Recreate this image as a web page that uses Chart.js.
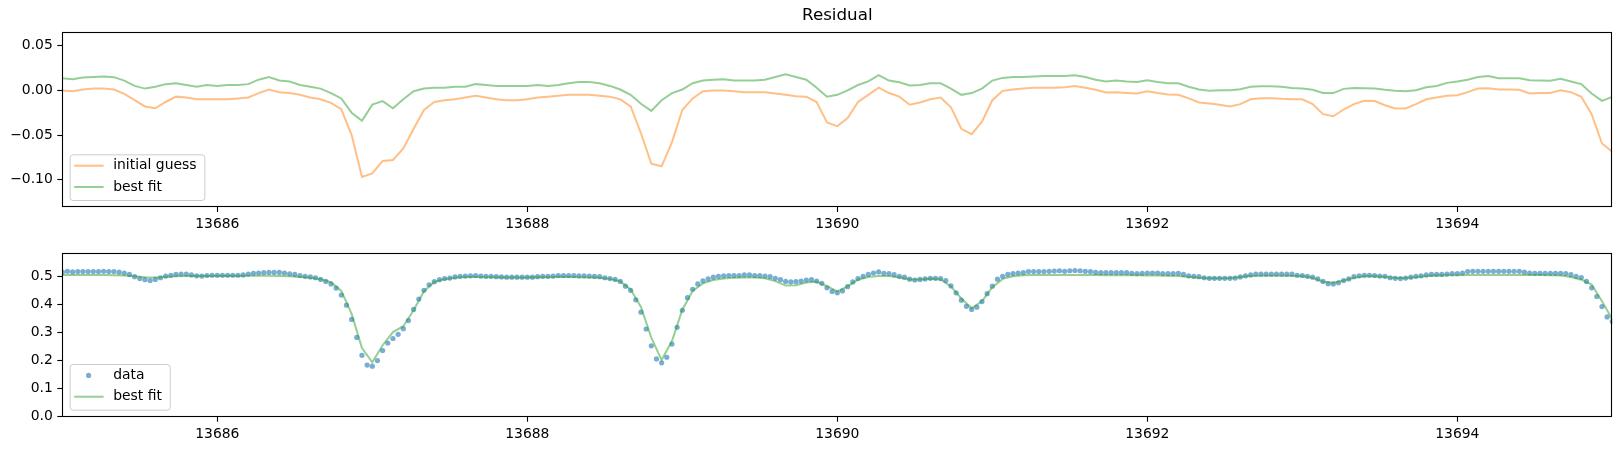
<!DOCTYPE html>
<html>
<head>
<meta charset="utf-8">
<title>Residual / best fit</title>
<script src="https://cdn.jsdelivr.net/npm/chart.js@4.4.1/dist/chart.umd.min.js"></script>
<style>
  html, body { margin: 0; padding: 0; background: #fff; }
  #wrap { position: relative; width: 1622px; height: 451px; }
  #wrap canvas { position: absolute; left: 0; }
</style>
</head>
<body>
<div id="wrap">
  <canvas id="residChart" width="1622" height="240" style="top:0"></canvas>
  <canvas id="fitChart" width="1622" height="211" style="top:240px"></canvas>
</div>
<script>
// ─── DATA ────────────────────────────────────────────
// wavelength grid: data sampled every 1/30 Å, model curves every 1/15 Å
const WAVE_START = 13685.0;
const DATA_STEP  = 1 / 30;
const MODEL_STEP = 1 / 15;

const X_TICKS      = [13686, 13688, 13690, 13692, 13694];
const RESID_Y_TICKS = [-0.10, -0.05, 0.00, 0.05];
const FLUX_Y_TICKS  = [0.0, 0.1, 0.2, 0.3, 0.4, 0.5];

// observed flux (blue dots)
const dataFlux = [
  .514,.517,.515,.516,.516,.516,.516,.516,.517,.516,.516,.514,
  .511,.506,.498,.491,.487,.484,.488,.494,.500,.503,.506,.507,.507,.504,.501,.500,
  .502,.503,.503,.503,.503,.503,.503,.504,
  .507,.510,.511,.512,.513,.513,.513,.511,.508,.506,.502,.499,.497,.494,.488,.481,.472,.457,.432,
  .396,.345,.281,.217,.182,.178,.198,.234,.261,.277,.292,.312,.341,.381,.418,.449,.469,.480,.487,.491,
  .493,.497,.499,.500,.501,.502,.500,.499,.499,.498,.497,.496,.496,.496,.496,.496,.496,.498,.499,.499,
  .500,.502,.502,.502,.502,.501,.501,.500,.499,.498,.494,.491,.488,.481,.464,.449,
  .415,.371,.311,.251,.204,.190,.210,.257,.317,.378,.423,.453,
  .472,.483,.490,.496,.499,.501,.502,.502,.502,.504,.504,.502,.502,.500,.498,.492,.487,.481,.479,.480,
  .482,.486,.487,.482,.474,.458,.445,
  .440,.447,.462,.479,.491,.499,.506,.511,.515,.510,.509,.505,.499,.496,.489,.486,.488,.490,.492,.492,
  .491,.484,.465,.440,.414,.392,.381,.389,.409,.437,.464,.489,.499,.506,.509,.511,.512,.516,.516,.516,
  .516,.517,.518,.519,.517,.519,.520,.519,.517,.516,.513,.512,.512,.512,.512,.512,.512,.510,.509,.510,
  .511,.511,.511,.509,.509,.509,.510,.506,.501,.499,.498,.494,.492,.492,
  .492,.492,.492,.493,.497,.501,.504,.507,.507,.507,.507,.507,.507,.507,.507,.503,.502,.499,.496,.490,
  .481,.473,.472,.476,.484,.490,.498,.501,.503,.503,.502,.500,.499,.494,.492,.491,.493,.496,.499,.501,
  .504,.506,.506,.506,.507,.509,.509,.511,.516,.517,.517,.517,.517,.517,.517,.517,.517,.517,.517,.514,
  .511,.510,.510,.510,.510,.510,.510,.509,.505,.499,.495,.481,.458,.427,.391,.354,.338
];

// best-fit model flux (green line, lower panel)
const fitFlux = [
  .504,.504,.504,.504,.504,.503,.502,.499,.496,.495,.497,.499,.500,.500,.500,.500,.500,.500,.501,.501,
  .501,.500,.499,.497,.494,.489,.478,.447,
  .365,.243,.192,.253,.300,.321,.378,.446,.479,
  .489,.494,.497,.497,.496,.496,.495,.495,.495,.496,.496,.497,.497,.496,.495,.494,.490,.481,.452,.390,
  .280,.200,.268,
  .380,.447,.474,.486,.491,.494,.495,.495,.492,.482,.466,.467,.477,.480,.464,.445,.463,.487,.497,.500,
  .500,.495,.488,.488,.490,.488,.463,.420,.385,.410,.460,.490,.499,
  .503,.504,.504,.504,.504,.504,.504,.504,.503,.503,.503,.503,.502,.502,.501,.500,.497,.494,.492,.492,
  .493,.497,.500,.501,.501,.501,.500,.499,.494,.480,.476,.484,.494,.499,.499,.497,.494,.493,.496,.500,
  .502,.503,.503,.504,.504,.504,.504,.504,.504,.504,.504,.503,.502,.497,.487,.470,.410,.346
];

// residual: data minus initial guess (orange, upper panel)
const residInitial = [
  .000,-.001,.001,.002,.002,.001,-.004,-.011,-.018,-.020,-.013,-.007,-.008,-.010,-.010,-.010,-.010,-.009,
  -.008,-.003,.001,-.002,-.003,-.005,-.008,-.010,-.014,-.021,-.050,-.097,-.093,-.079,-.078,-.065,-.043,
  -.022,-.013,-.011,-.010,-.008,-.006,-.008,-.010,-.011,-.011,-.010,-.008,-.007,-.006,
  -.005,-.005,-.005,-.006,-.007,-.010,-.018,-.048,-.082,-.085,-.058,-.022,-.009,-.001,.000,.000,-.001,
  -.002,-.002,-.002,-.0035,-.005,-.0065,-.007,-.013,-.036,-.040,-.031,-.013,-.005,.003,-.003,-.007,
  -.016,-.0135,-.010,-.008,-.019,-.043,-.049,-.035,-.011,-.0005,.001,.002,.003,.003,.003,.0035,.005,
  .003,.0006,
  -.0024,-.002,-.0028,-.0035,-.001,-.003,-.0046,-.005,-.009,-.0136,-.0147,-.016,-.018,-.0154,-.010,
  -.0087,-.0087,-.0095,-.010,-.010,-.0154,-.0266,-.029,-.0214,-.0154,-.0117,-.012,-.0166,-.0203,-.0203,
  -.0154,-.010,-.008,-.006,-.0054,-.002,.002,.0025,.001,.001,.0006,-.0035,-.003,-.003,.000,-.002,
  -.0072,-.0266,-.0595,-.0688
];

// residual: data minus best fit (green, upper panel)
const residBest = [
  .0137,.0125,.0144,.0151,.0155,.0148,.011,.005,.002,.004,.007,.008,.006,.004,.006,.005,.006,.006,
  .007,.012,.015,.011,.010,.006,.004,.002,-.003,-.009,-.025,-.034,-.016,-.012,-.020,-.010,-.001,.002,
  .003,.003,.004,.004,.007,.006,.005,.005,.005,.005,.006,.005,.006,
  .008,.0095,.0095,.008,.005,.001,-.005,-.015,-.023,-.011,-.003,.001,.008,.011,.012,.0125,.011,.011,
  .011,.012,.015,.018,.015,.012,.003,-.007,-.005,.000,.006,.010,.017,.011,.009,.0055,.006,.008,.008,
  .002,-.005,-.003,.002,.011,.014,.015,.015,.0155,.016,.016,.016,.017,.015,.012,
  .010,.011,.010,.0095,.0114,.0095,.008,.008,.004,.001,-.0005,.0002,.0002,.0013,.004,.0047,.0047,.004,
  .0028,.002,.0006,-.003,-.003,.0017,.0028,.0025,.002,.0006,-.0005,-.001,.0002,.0036,.005,.0084,.010,
  .012,.015,.016,.0137,.0137,.0137,.0114,.011,.0107,.013,.010,.007,-.0035,-.0117,-.0072
];

[['dataFlux', dataFlux, 301], ['fitFlux', fitFlux, 151],
 ['residInitial', residInitial, 151], ['residBest', residBest, 151]].forEach(([n, a, len]) => {
  if (a.length !== len) throw new Error(n + ' has ' + a.length + ' values, expected ' + len);
});

const toPoints = (vals, step) => vals.map((y, i) => ({ x: WAVE_START + i * step, y }));

// ─── STYLE ───────────────────────────────────────────
const ORANGE = 'rgba(255,127,14,0.5)';
const GREEN  = 'rgba(44,160,44,0.5)';
const BLUE   = 'rgba(31,119,180,0.6)';
const FONT   = '"DejaVu Sans", Verdana, sans-serif';

Chart.defaults.font.family = FONT;
Chart.defaults.font.size = 13.9;
Chart.defaults.color = '#000';

// black box round the plot area, like matplotlib spines
const frame = {
  id: 'frame',
  afterDatasetsDraw(chart) {
    const a = chart.chartArea, ctx = chart.ctx;
    ctx.save();
    ctx.strokeStyle = '#000';
    ctx.lineWidth = 1.1;
    ctx.strokeRect(Math.round(a.left) + 0.5, Math.round(a.top) + 0.5,
                   Math.round(a.right - a.left) - 1, Math.round(a.bottom - a.top) - 1);
    ctx.restore();
  }
};

// legend boxed in the lower-left corner of the plot area
const insetLegend = {
  id: 'insetLegend',
  afterDraw(chart, args, opts) {
    const { ctx, chartArea } = chart;
    const items = opts.items || [];
    ctx.save();
    ctx.font = '13.9px ' + FONT;
    const tw = Math.max(...items.map(it => ctx.measureText(it.label).width));
    const w = 44 + tw + 7.5, h = 45.7;
    const x0 = chartArea.left + 7.3, y0 = chartArea.bottom - 7 - h;
    ctx.beginPath();
    ctx.roundRect(x0 + 0.5, y0 + 0.5, w, h, 3);
    ctx.fillStyle = 'rgba(255,255,255,0.8)';
    ctx.fill();
    ctx.strokeStyle = '#cccccc';
    ctx.lineWidth = 1;
    ctx.stroke();
    items.forEach((it, k) => {
      const y = y0 + 11.4 + k * 21.3;
      if (it.kind === 'dot') {
        ctx.beginPath();
        ctx.arc(x0 + 19, y, 2.6, 0, Math.PI * 2);
        ctx.fillStyle = it.color;
        ctx.fill();
      } else {
        ctx.beginPath();
        ctx.moveTo(x0 + 4.6, y);
        ctx.lineTo(x0 + 34, y);
        ctx.strokeStyle = it.color;
        ctx.lineWidth = 2;
        ctx.stroke();
      }
      ctx.fillStyle = '#000';
      ctx.textBaseline = 'middle';
      ctx.textAlign = 'left';
      ctx.fillText(it.label, x0 + 43.6, y);
    });
    ctx.restore();
  }
};

function xAxis(height) {
  return {
    type: 'linear',
    min: 13685,
    max: 13695,
    afterBuildTicks: s => { s.ticks = X_TICKS.map(v => ({ value: v })); },
    afterFit: s => { s.height = height; },
    grid: { drawOnChartArea: false, drawTicks: true, tickLength: 5, tickColor: '#000', tickWidth: 1.1 },
    border: { display: false },
    ticks: { autoSkip: false, maxRotation: 0, padding: 4, callback: v => String(v) },
  };
}

function yAxis(min, max, tickVals, digits) {
  return {
    min, max,
    afterBuildTicks: s => { s.ticks = tickVals.map(v => ({ value: v })); },
    afterFit: s => { s.width = 62.3; },
    grid: { drawOnChartArea: false, drawTicks: true, tickLength: 5, tickColor: '#000', tickWidth: 1.1 },
    border: { display: false },
    ticks: { padding: 4.5, callback: v => v.toFixed(digits).replace('-', '\u2212') },
  };
}

const lineSet = (label, pts, color) => ({
  label, data: pts, showLine: true, borderColor: color, borderWidth: 2,
  pointRadius: 0, fill: false, tension: 0,
});

// ─── TOP PANEL: RESIDUAL ─────────────────────────────
new Chart(document.getElementById('residChart'), {
  type: 'scatter',
  data: {
    datasets: [
      lineSet('initial guess', toPoints(residInitial, MODEL_STEP), ORANGE),
      lineSet('best fit',      toPoints(residBest, MODEL_STEP),    GREEN),
    ],
  },
  options: {
    responsive: false,
    animation: false,
    devicePixelRatio: 1,
    layout: { padding: { left: 0, right: 9.7, top: 0, bottom: 0 } },
    plugins: {
      legend: { display: false },
      tooltip: { enabled: false },
      title: {
        display: true, text: 'Residual', fullSize: false, color: '#000',
        font: { size: 16.7, weight: 'normal' }, padding: { top: 6, bottom: 6.3 },
      },
      insetLegend: { items: [
        { label: 'initial guess', color: ORANGE, kind: 'line' },
        { label: 'best fit',      color: GREEN,  kind: 'line' },
      ] },
    },
    scales: {
      x: xAxis(33),
      y: yAxis(-0.1306, 0.065, RESID_Y_TICKS, 2),
    },
  },
  plugins: [frame, insetLegend],
});

// ─── BOTTOM PANEL: DATA + BEST FIT ───────────────────
new Chart(document.getElementById('fitChart'), {
  type: 'scatter',
  data: {
    datasets: [
      { ...lineSet('best fit', toPoints(fitFlux, MODEL_STEP), GREEN), order: 0 },
      {
        label: 'data', data: toPoints(dataFlux, DATA_STEP), order: 1,
        pointRadius: 2.6, pointBorderWidth: 0, backgroundColor: BLUE, borderColor: BLUE,
      },
    ],
  },
  options: {
    responsive: false,
    animation: false,
    devicePixelRatio: 1,
    layout: { padding: { left: 0, right: 9.7, top: 2.3, bottom: 0 } },
    plugins: {
      legend: { display: false },
      tooltip: { enabled: false },
      insetLegend: { items: [
        { label: 'data',     color: BLUE,  kind: 'dot' },
        { label: 'best fit', color: GREEN, kind: 'line' },
      ] },
    },
    scales: {
      x: xAxis(34.3),
      y: yAxis(-0.0023, 0.583, FLUX_Y_TICKS, 1),
    },
  },
  plugins: [frame, insetLegend],
});
</script>
</body>
</html>
